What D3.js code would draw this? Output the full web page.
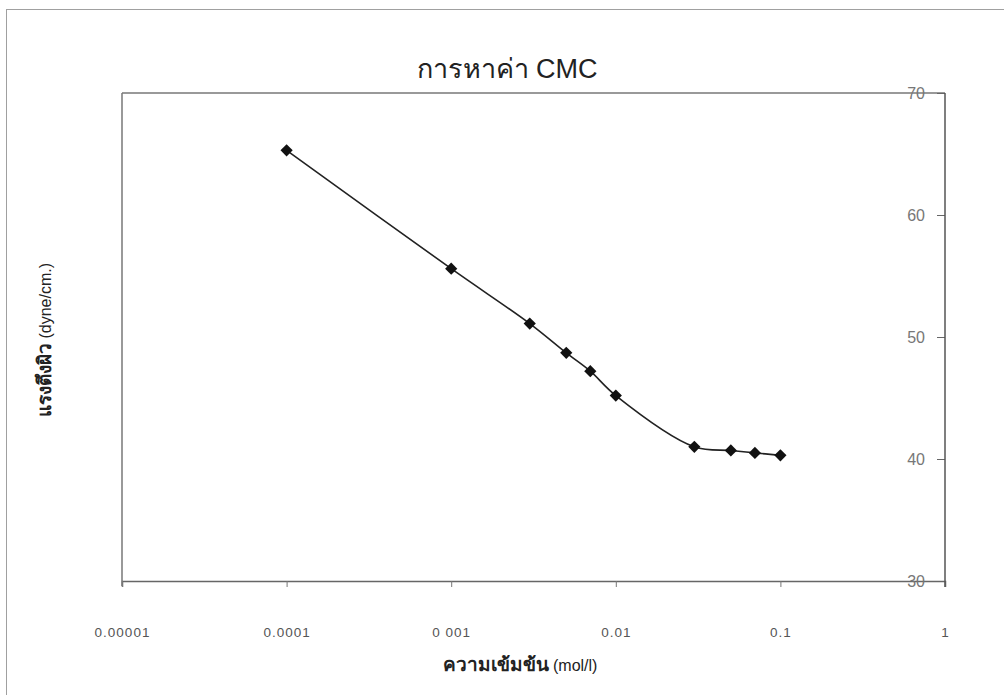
<!DOCTYPE html>
<html>
<head>
<meta charset="utf-8">
<script src="https://cdn.jsdelivr.net/npm/d3@7"></script>
<style>
  html, body { margin: 0; padding: 0; background: #fff; }
  svg { display: block; }
  text { font-family: "Liberation Sans", Arial, "Noto Sans", sans-serif; }
</style>
</head>
<body>
<svg id="chart" width="1004" height="695"></svg>
<script>
// Surface tension versus surfactant concentration
const concentration = [0.0001, 0.001, 0.003, 0.005, 0.007, 0.01, 0.03, 0.05, 0.07, 0.1];
const tension = [65.3, 55.6, 51.1, 48.7, 47.2, 45.2, 41.0, 40.7, 40.5, 40.3];
const xTicks = [0.00001, 0.0001, 0.001, 0.01, 0.1, 1];
const xTickLabels = ["0.00001", "0.0001", "0 001", "0.01", "0.1", "1"];
const yTicks = [30, 40, 50, 60, 70];

const svg = d3.select("#chart");
const plot = { left: 122, right: 945, top: 93, bottom: 581 };

const x = d3.scaleLog().domain([0.00001, 1]).range([plot.left, plot.right]);
const y = d3.scaleLinear().domain([30, 70]).range([plot.bottom, plot.top]);

// outer frame
svg.append("rect")
  .attr("x", 6.5).attr("y", 9.5).attr("width", 1010).attr("height", 700)
  .attr("fill", "none").attr("stroke", "#a0a0a0").attr("stroke-width", 1);

// plot frame: left and top edges
svg.append("line")
  .attr("x1", plot.left).attr("x2", plot.left)
  .attr("y1", plot.top).attr("y2", plot.bottom + 5)
  .attr("stroke", "#777").attr("stroke-width", 1.5);
svg.append("line")
  .attr("x1", plot.left).attr("x2", plot.right)
  .attr("y1", plot.top).attr("y2", plot.top)
  .attr("stroke", "#777").attr("stroke-width", 1.5);

// bottom axis
const xAxis = d3.axisBottom(x)
  .tickValues(xTicks)
  .tickSize(6)
  .tickPadding(40)
  .tickFormat((d, i) => xTickLabels[i]);
const gx = svg.append("g")
  .attr("transform", `translate(0,${plot.bottom})`)
  .call(xAxis);
gx.select(".domain").attr("stroke", "#666").attr("stroke-width", 1.5);
gx.selectAll(".tick line").attr("stroke", "#777");
gx.selectAll(".tick text")
  .attr("fill", "#555")
  .style("font-size", "13.5px")
  .style("letter-spacing", "1px");

// right axis, ticks pointing inward with labels inside the plot
const yAxis = d3.axisLeft(y)
  .tickValues(yTicks)
  .tickSize(8)
  .tickPadding(12)
  .tickFormat(d3.format("d"));
const gy = svg.append("g")
  .attr("transform", `translate(${plot.right},0)`)
  .call(yAxis);
gy.select(".domain").remove();
gy.append("line")
  .attr("x1", 0).attr("x2", 0)
  .attr("y1", plot.top).attr("y2", plot.bottom + 6)
  .attr("stroke", "#555").attr("stroke-width", 1.5);
gy.selectAll(".tick line").attr("stroke", "#666");
gy.selectAll(".tick text")
  .attr("fill", "#777")
  .style("font-size", "16px");

// data
const pts = concentration.map((c, i) => [c, tension[i]]);
const line = d3.line()
  .x(d => x(d[0]))
  .y(d => y(d[1]))
  .curve(d3.curveCatmullRom.alpha(0.5));
svg.append("path")
  .datum(pts)
  .attr("d", line)
  .attr("fill", "none")
  .attr("stroke", "#222")
  .attr("stroke-width", 1.6);

svg.selectAll(".marker")
  .data(pts)
  .join("path")
  .attr("class", "marker")
  .attr("transform", d => `translate(${x(d[0])},${y(d[1])})`)
  .attr("d", d3.symbol().type(d3.symbolDiamond2).size(95))
  .attr("fill", "#111");

// title
svg.append("text")
  .attr("x", 507).attr("y", 78)
  .attr("text-anchor", "middle")
  .attr("fill", "#222")
  .style("font-size", "27px")
  .text("การหาค่า CMC");

// x axis title
const xt = svg.append("text")
  .attr("x", 520).attr("y", 671)
  .attr("text-anchor", "middle")
  .attr("fill", "#222")
  .style("font-size", "19px");
xt.append("tspan").style("font-weight", "bold").text("ความเข้มข้น");
xt.append("tspan").style("font-size", "16px").text(" (mol/l)");

// y axis title
const yt = svg.append("text")
  .attr("transform", "translate(51,340) rotate(-90)")
  .attr("text-anchor", "middle")
  .attr("fill", "#222")
  .style("font-size", "19px");
yt.append("tspan").style("font-weight", "bold").text("แรงตึงผิว");
yt.append("tspan").style("font-size", "16px").text(" (dyne/cm.)");
</script>
</body>
</html>
